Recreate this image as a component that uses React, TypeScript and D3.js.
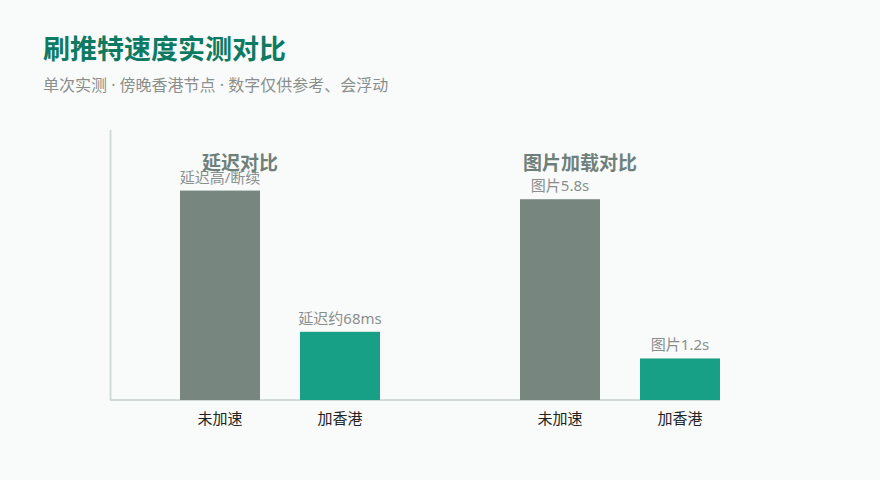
import React from "react";
import * as d3 from "d3";

const groups = ["延迟对比", "图片加载对比"];
const categories = ["未加速", "加香港"];
// relative bar heights (common scale)
const groupValues = [
  [6.05, 1.97],
  [5.8, 1.2],
];
const valueLabels = [
  ["延迟高/断续", "延迟约68ms"],
  ["图片5.8s", "图片1.2s"],
];
const title = "刷推特速度实测对比";
const subtitle = "单次实测 · 傍晚香港节点 · 数字仅供参考、会浮动";

const W = 880;
const H = 480;
const FONT = '"Noto Sans", "Noto Sans CJK SC", sans-serif';
const colors = ["#788680", "#17a086"];

export default function App() {
  const x0 = d3.scaleBand<string>().domain(groups).range([110, 790]).padding(0);
  const x1 = d3.scaleBand<string>().domain(categories).range([70, 270]).paddingInner(1 / 3).paddingOuter(0);
  const y = d3.scaleLinear().domain([0, 7.8]).range([400, 130]);

  return (
    <div style={{ position: "fixed", left: 0, top: 0, width: W, height: H }}>
      <svg width={W} height={H} style={{ display: "block", fontFamily: FONT }}>
        <rect x={0} y={0} width={W} height={H} fill="#f9fbfa" />
        <text x={43} y={59} fontSize={27} fontWeight={700} fill="#0f7a62">
          {title}
        </text>
        <text x={43} y={91} fontSize={16} fill="#8a8f8d">
          {subtitle}
        </text>
        <line x1={110.5} x2={110.5} y1={130} y2={400} stroke="#d3dbd8" strokeWidth={2} />
        <line x1={110} x2={720} y1={400} y2={400} stroke="#d3dbd8" strokeWidth={2} />
        {groups.map((g, gi) => {
          const gx = x0(g) as number;
          return (
            <g key={g}>
              {categories.map((c, ci) => {
                const bx = gx + (x1(c) as number);
                const v = groupValues[gi][ci];
                const top = y(v);
                return (
                  <g key={c}>
                    <rect x={bx} y={top} width={x1.bandwidth()} height={y(0) - top} fill={colors[ci]} />
                    <text
                      x={bx + x1.bandwidth() / 2}
                      y={top - 8}
                      textAnchor="middle"
                      fontSize={15}
                      fill="#8a8f8d"
                    >
                      {valueLabels[gi][ci]}
                    </text>
                    <text
                      x={bx + x1.bandwidth() / 2}
                      y={424}
                      textAnchor="middle"
                      fontSize={15}
                      fill="#222"
                    >
                      {c}
                    </text>
                  </g>
                );
              })}
              <text x={gx + 130} y={170} textAnchor="middle" fontSize={19} fontWeight={700} fill="#6f807b">
                {g}
              </text>
            </g>
          );
        })}
      </svg>
    </div>
  );
}
